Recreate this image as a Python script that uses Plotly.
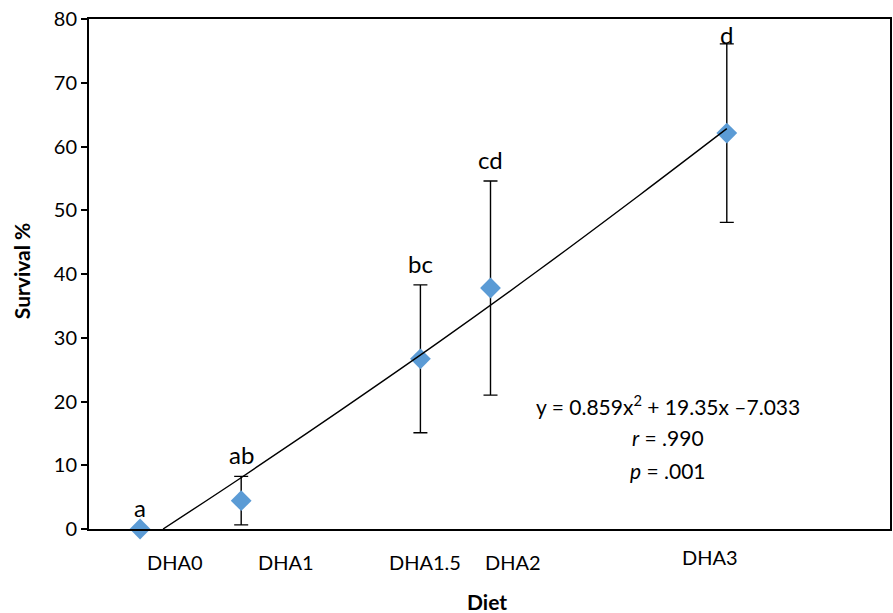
import plotly.graph_objects as go

# ---- data ----
diets = ["DHA0", "DHA1", "DHA1.5", "DHA2", "DHA3"]
diet_x = [0.51, 1.52, 3.31, 4.01, 6.37]          # x position of each diet on the hidden numeric axis
survival = [0.0, 4.45, 26.7, 37.8, 62.1]
survival_sd = [0.0, 3.8, 11.6, 16.8, 14.0]
letters = ["a", "ab", "bc", "cd", "d"]

trend_x = [0.74, 1.5, 2.5, 3.5, 4.5, 5.5, 6.37]
trend_y = [0.0, 7.85, 18.5, 29.4, 40.7, 52.4, 62.8]

label_x = [0.86, 1.97, 3.36, 4.23, 6.20]            # where the diet names sit under the axis

equation_lines = ["y = 0.859x<sup>2</sup> + 19.35x –7.033",
                  "<i>r</i> = .990",
                  "<i>p</i> = .001"]

FONT = "Lato, Calibri, Liberation Sans, sans-serif"

fig = go.Figure()

fig.add_trace(go.Scatter(
    x=diet_x, y=survival, mode="markers",
    marker=dict(symbol="diamond", size=16, color="#5B9BD5", line=dict(width=0)),
    error_y=dict(type="data", array=survival_sd, visible=True,
                 color="black", thickness=1.4, width=7),
    showlegend=False, cliponaxis=False,
))

fig.add_trace(go.Scatter(
    x=trend_x, y=trend_y, mode="lines",
    line=dict(color="black", width=1.4, shape="spline"),
    showlegend=False,
))

annotations = []
for xv, yv, ev, lt in zip(diet_x, survival, survival_sd, letters):
    ly = min(yv + ev + 3.4, 77.6)
    annotations.append(dict(x=xv, y=ly, xref="x", yref="y", text=lt, showarrow=False,
                            font=dict(family=FONT, size=24, color="black"),
                            xanchor="center", yanchor="middle"))

for lx, name in zip(label_x, diets):
    annotations.append(dict(x=lx, y=-0.055 if name == "DHA3" else -0.064, xref="x", yref="paper",
                            text=name, showarrow=False,
                            font=dict(family=FONT, size=20, color="black"),
                            xanchor="center", yanchor="middle"))

for j, line in enumerate(equation_lines):
    annotations.append(dict(x=5.78, y=19.45 - j * 5.1, xref="x", yref="y", text=line,
                            showarrow=False, font=dict(family=FONT, size=21, color="black"),
                            xanchor="center", yanchor="middle"))

annotations.append(dict(x=0.497, y=-0.143, xref="paper", yref="paper", text="<b>Diet</b>",
                        showarrow=False, font=dict(family=FONT, size=21, color="black"),
                        xanchor="center", yanchor="middle"))

annotations.append(dict(x=-0.084, y=0.505, xref="paper", yref="paper", text="<b>Survival %</b>",
                        showarrow=False, textangle=-90,
                        font=dict(family=FONT, size=21, color="black"),
                        xanchor="center", yanchor="middle"))

fig.update_layout(
    width=893, height=613,
    margin=dict(l=89, r=3, t=19, b=84, autoexpand=False),
    paper_bgcolor="white", plot_bgcolor="white",
    font=dict(family=FONT, size=18, color="black"),
    annotations=annotations,
    xaxis=dict(range=[0, 8], showticklabels=False, ticks="", showgrid=False, zeroline=False,
               showline=True, linecolor="black", linewidth=2, mirror=True),
    yaxis=dict(range=[0, 80], dtick=10, ticks="outside", ticklen=6, tickwidth=1.5,
               tickcolor="black", showgrid=False, zeroline=False,
               showline=True, linecolor="black", linewidth=2, mirror=True,
               tickfont=dict(family=FONT, size=20)),
)

fig.write_html("out.html", config={"displayModeBar": False},
               post_script="document.body.style.margin='0';document.body.style.overflow='hidden';")
